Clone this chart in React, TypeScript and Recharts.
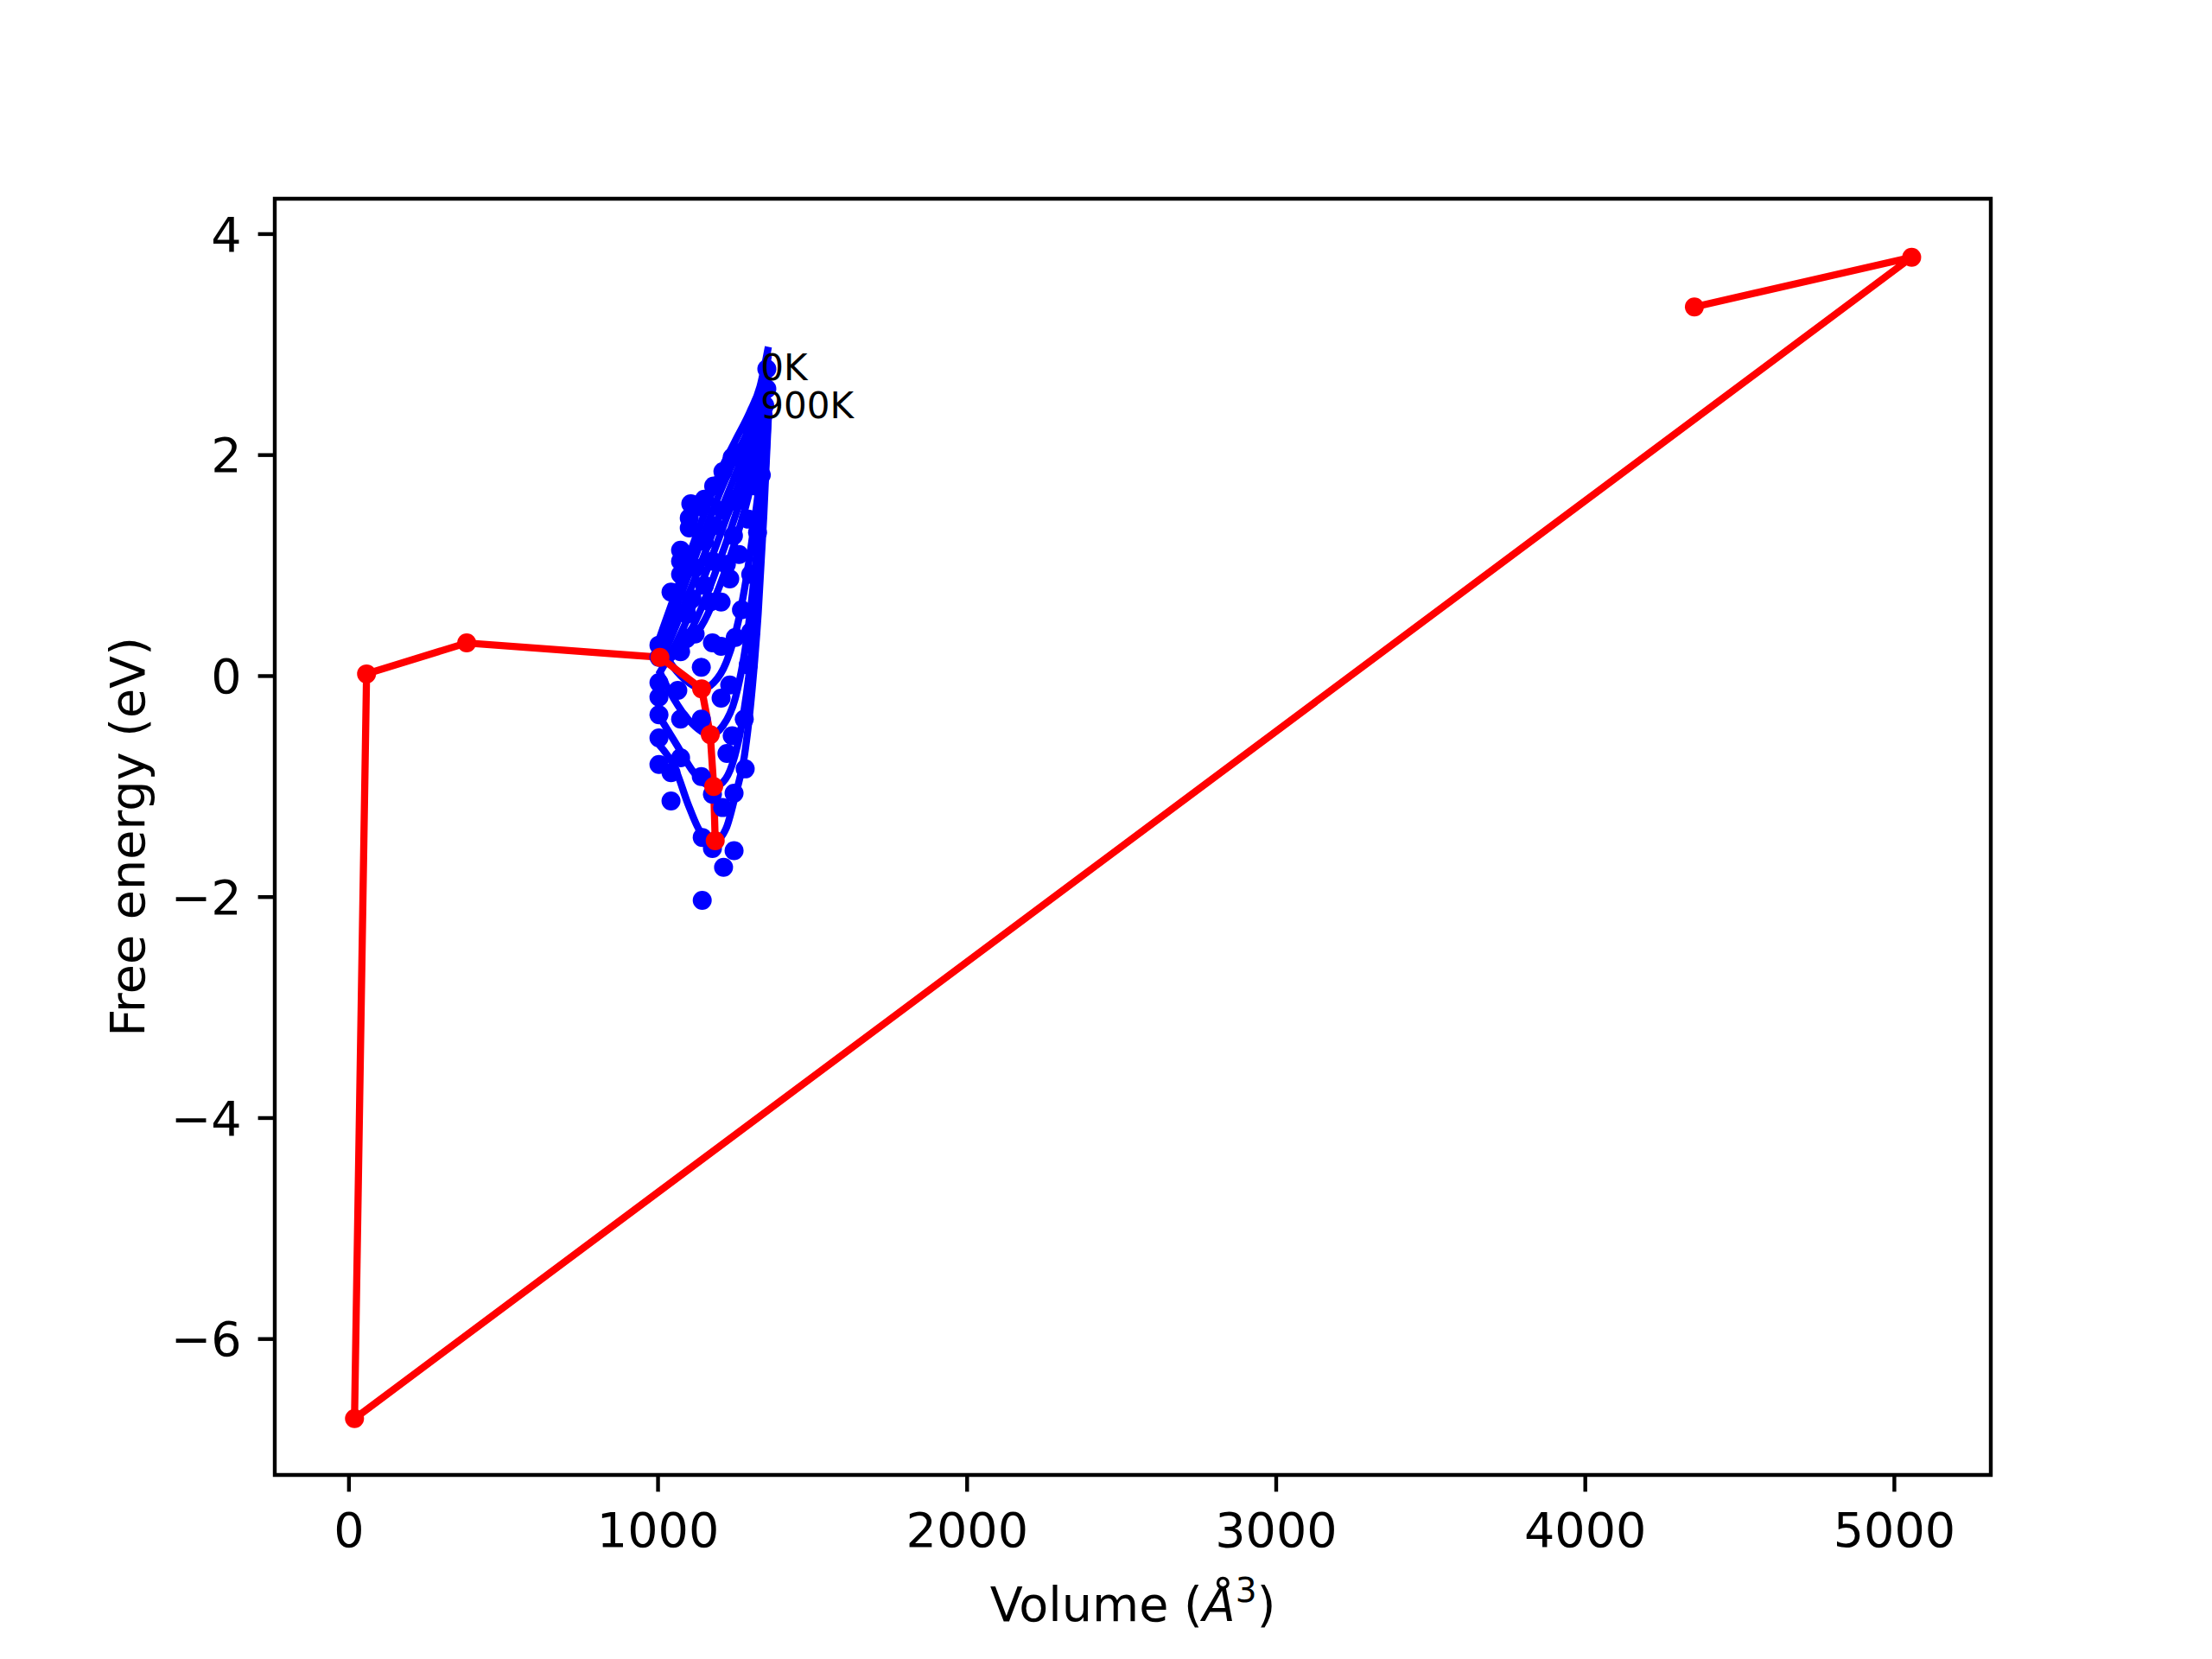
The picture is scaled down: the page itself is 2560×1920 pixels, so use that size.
import { ComposedChart, Line, Scatter, XAxis, YAxis, ReferenceArea, Label } from "recharts";

// fitted free energy curves, one per temperature (Volume in Å^3, F in eV)
const fit0K = [
  { V: 1003, F: 0.33 }, { V: 1050, F: 0.7 }, { V: 1100, F: 1.09 }, { V: 1150, F: 1.47 }, { V: 1196, F: 1.82 },
  { V: 1250, F: 2.13 }, { V: 1297, F: 2.39 }, { V: 1330, F: 2.62 }, { V: 1357, F: 2.98 },
];
const fit100K = [
  { V: 1003, F: 0.2 }, { V: 1050, F: 0.55 }, { V: 1100, F: 0.93 }, { V: 1150, F: 1.3 }, { V: 1200, F: 1.66 },
  { V: 1250, F: 1.98 }, { V: 1300, F: 2.28 }, { V: 1330, F: 2.52 }, { V: 1357, F: 2.9 },
];
const fit200K = [
  { V: 1003, F: 0.1 }, { V: 1050, F: 0.4 }, { V: 1100, F: 0.75 }, { V: 1150, F: 1.1 }, { V: 1200, F: 1.47 },
  { V: 1250, F: 1.82 }, { V: 1300, F: 2.17 }, { V: 1330, F: 2.45 }, { V: 1357, F: 2.82 },
];
const fit300K = [
  { V: 1003, F: 0.02 }, { V: 1050, F: 0.25 }, { V: 1100, F: 0.55 }, { V: 1150, F: 0.9 }, { V: 1200, F: 1.27 },
  { V: 1250, F: 1.65 }, { V: 1300, F: 2.05 }, { V: 1330, F: 2.38 }, { V: 1357, F: 2.74 },
];
const fit400K = [
  { V: 1003, F: 0.1 }, { V: 1050, F: 0.18 }, { V: 1100, F: 0.38 }, { V: 1150, F: 0.68 }, { V: 1200, F: 1.05 },
  { V: 1250, F: 1.45 }, { V: 1300, F: 1.9 }, { V: 1330, F: 2.3 }, { V: 1357, F: 2.66 },
];
const fit500K = [
  { V: 1003, F: 0.17 }, { V: 1050, F: 0.2 }, { V: 1100, F: 0.3 }, { V: 1150, F: 0.5 }, { V: 1200, F: 0.82 },
  { V: 1250, F: 1.22 }, { V: 1300, F: 1.72 }, { V: 1330, F: 2.15 }, { V: 1357, F: 2.58 },
];
const fit600K = [
  { V: 1003, F: 0.3 }, { V: 1050, F: 0.08 }, { V: 1100, F: -0.06 }, { V: 1141, F: -0.115 }, { V: 1180, F: -0.06 },
  { V: 1220, F: 0.12 }, { V: 1260, F: 0.5 }, { V: 1300, F: 1.15 }, { V: 1330, F: 1.8 }, { V: 1357, F: 2.5 },
];
const fit700K = [
  { V: 1003, F: 0.05 }, { V: 1050, F: -0.2 }, { V: 1100, F: -0.4 }, { V: 1169, F: -0.53 }, { V: 1210, F: -0.45 },
  { V: 1250, F: -0.2 }, { V: 1285, F: 0.3 }, { V: 1315, F: 1.0 }, { V: 1340, F: 1.75 }, { V: 1357, F: 2.45 },
];
const fit800K = [
  { V: 1003, F: -0.36 }, { V: 1060, F: -0.62 }, { V: 1115, F: -0.87 }, { V: 1150, F: -0.97 }, { V: 1180, F: -1.0 },
  { V: 1210, F: -0.96 }, { V: 1240, F: -0.8 }, { V: 1270, F: -0.45 }, { V: 1300, F: 0.15 }, { V: 1325, F: 0.9 },
  { V: 1345, F: 1.75 }, { V: 1357, F: 2.4 },
];
const fit900K = [
  { V: 1003, F: -0.62 }, { V: 1056, F: -0.84 }, { V: 1100, F: -1.18 }, { V: 1140, F: -1.42 }, { V: 1185, F: -1.49 },
  { V: 1220, F: -1.38 }, { V: 1251, F: -1.07 }, { V: 1279, F: -0.73 }, { V: 1305, F: -0.1 }, { V: 1324, F: 0.57 },
  { V: 1342, F: 1.45 }, { V: 1357, F: 2.35 },
];

const fits = [fit0K, fit100K, fit200K, fit300K, fit400K, fit500K, fit600K, fit700K, fit800K, fit900K];

// calculated points
const samples = [
  { V: 1352, F: 2.78 }, { V: 1352, F: 2.6 }, { V: 1345, F: 2.45 }, { V: 1340, F: 2.36 }, { V: 1310, F: 2.33 },
  { V: 1274, F: 2.03 }, { V: 1290, F: 1.9 }, { V: 1262, F: 1.62 }, { V: 1244, F: 1.27 }, { V: 1221, F: 1.01 },
  { V: 1106, F: 1.56 }, { V: 1139, F: 1.53 }, { V: 1101, F: 1.43 }, { V: 1101, F: 1.34 }, { V: 1073, F: 1.14 },
  { V: 1073, F: 1.04 }, { V: 1073, F: 0.92 }, { V: 1176, F: 1.04 }, { V: 1168, F: 0.67 }, { V: 1204, F: 0.67 },
  { V: 1042, F: 0.76 }, { V: 1093, F: 0.56 }, { V: 1003, F: 0.28 }, { V: 1092, F: 0.34 }, { V: 1120, F: 0.38 },
  { V: 1073, F: 0.22 }, { V: 1140, F: 0.08 }, { V: 1176, F: 0.3 }, { V: 1204, F: 0.27 }, { V: 1232, F: -0.08 },
  { V: 1279, F: -0.39 }, { V: 1240, F: -0.54 }, { V: 1003, F: 0.17 }, { V: 1003, F: -0.06 }, { V: 1003, F: -0.19 },
  { V: 1003, F: -0.35 }, { V: 1003, F: -0.56 }, { V: 1073, F: -0.39 }, { V: 1140, F: -0.39 }, { V: 1204, F: -0.2 },
  { V: 1064, F: -0.13 }, { V: 1003, F: -0.8 }, { V: 1042, F: -0.875 }, { V: 1073, F: -0.74 }, { V: 1140, F: -0.91 },
  { V: 1176, F: -1.07 }, { V: 1246, F: -1.06 }, { V: 1282, F: -0.84 }, { V: 1209, F: -1.19 }, { V: 1042, F: -1.13 },
  { V: 1143, F: -1.46 }, { V: 1176, F: -1.56 }, { V: 1246, F: -1.58 }, { V: 1212, F: -1.73 }, { V: 1143, F: -2.03 },
  { V: 1223, F: -0.7 }, { V: 1150, F: 1.6 }, { V: 1180, F: 1.72 }, { V: 1210, F: 1.85 }, { V: 1240, F: 1.98 },
  { V: 1300, F: 2.24 }, { V: 1322, F: 2.35 }, { V: 1150, F: 1.22 }, { V: 1180, F: 1.36 }, { V: 1210, F: 1.5 },
  { V: 1250, F: 1.58 }, { V: 1282, F: 1.78 }, { V: 1305, F: 2.02 }, { V: 1232, F: 0.88 }, { V: 1262, F: 1.1 },
  { V: 1292, F: 1.42 }, { V: 1315, F: 1.72 }, { V: 1270, F: 0.6 }, { V: 1300, F: 0.92 }, { V: 1322, F: 1.3 },
  { V: 1334, F: 1.82 }, { V: 1300, F: 0.4 }, { V: 1292, F: 0.1 }, { V: 1120, F: 0.98 }, { V: 1150, F: 0.82 },
  { V: 1110, F: 0.7 }, { V: 1250, F: 0.35 },
];

// equilibrium (V0, F0) from each fit, 0K -> 900K
const minima = [
  { V: 4353, F: 3.34 }, { V: 5056, F: 3.79 }, { V: 18, F: -6.72 }, { V: 57, F: 0.02 }, { V: 381, F: 0.3 },
  { V: 1006, F: 0.17 }, { V: 1141, F: -0.115 }, { V: 1169, F: -0.53 }, { V: 1180, F: -1.0 }, { V: 1185, F: -1.49 },
];

const tempLabels = [
  { V: 1332, F: 2.68, text: "0K" },
  { V: 1332, F: 2.33, text: "900K" },
];

const xTicks = [0, 1000, 2000, 3000, 4000, 5000];
const yTicks = [-6, -4, -2, 0, 2, 4];
const xDomain = [-240, 5312];
const yDomain = [-7.23, 4.32];

const font = "DejaVu Sans";
const fmt = (v: number) => (v < 0 ? `\u2212${Math.abs(v)}` : String(v));

export default function App() {
  return (
    <div style={{ position: "absolute", left: 0, top: 0, width: 2560, height: 1920, background: "#fff" }}>
      <ComposedChart width={2560} height={1920} margin={{ top: 230, right: 256, bottom: 153, left: 258 }}>
        <XAxis
          dataKey="V"
          type="number"
          domain={xDomain}
          ticks={xTicks}
          allowDataOverflow
          height={60}
          axisLine={false}
          tickSize={19.4}
          tickMargin={24}
          tickFormatter={fmt}
          tickLine={{ stroke: "#000", strokeWidth: 4.4 }}
          tick={{ fill: "#000", fontSize: 55.6, fontFamily: font }}
        >
          <Label
            content={(p: any) => {
              const vb = p.viewBox;
              return (
                <text x={vb.x + vb.width / 2} y={1876} textAnchor="middle" fontFamily={font} fontSize={55.6} fill="#000">
                  <tspan>Volume (</tspan>
                  <tspan fontStyle="italic">Å</tspan>
                  <tspan dy={-22} fontSize={39}>3</tspan>
                  <tspan dy={22}>)</tspan>
                </text>
              );
            }}
          />
        </XAxis>
        <YAxis
          dataKey="F"
          type="number"
          domain={yDomain}
          ticks={yTicks}
          allowDataOverflow
          width={60}
          axisLine={false}
          tickSize={19.4}
          tickMargin={19}
          tickFormatter={fmt}
          tickLine={{ stroke: "#000", strokeWidth: 4.4 }}
          tick={{ fill: "#000", fontSize: 55.6, fontFamily: font }}
        >
          <Label
            content={(p: any) => {
              const vb = p.viewBox;
              const cy = vb.y + vb.height / 2;
              return (
                <text x={167} y={cy} transform={`rotate(-90 167 ${cy})`} textAnchor="middle" fontFamily={font} fontSize={55.6} fill="#000">
                  Free energy (eV)
                </text>
              );
            }}
          />
        </YAxis>

        {fits.map((d, i) => (
          <Line key={i} data={d} dataKey="F" type="monotone" stroke="#0000ff" strokeWidth={8.3} dot={false} isAnimationActive={false} />
        ))}
        <Scatter
          data={samples}
          dataKey="F"
          isAnimationActive={false}
          shape={(p: any) => <circle cx={p.cx} cy={p.cy} r={11} fill="#0000ff" />}
        />
        <Scatter
          data={tempLabels}
          dataKey="F"
          isAnimationActive={false}
          shape={(p: any) => (
            <text x={p.cx} y={p.cy} fontFamily={font} fontSize={42} fill="#000">
              {p.payload.text}
            </text>
          )}
        />
        <Line
          data={minima}
          dataKey="F"
          type="linear"
          stroke="#ff0000"
          strokeWidth={8.3}
          dot={{ r: 11, fill: "#ff0000", stroke: "none" }}
          isAnimationActive={false}
        />
        <ReferenceArea
          x1={xDomain[0]}
          x2={xDomain[1]}
          y1={yDomain[0]}
          y2={yDomain[1]}
          fill="none"
          stroke="#000"
          strokeWidth={4.4}
          ifOverflow="visible"
        />
      </ComposedChart>
    </div>
  );
}
